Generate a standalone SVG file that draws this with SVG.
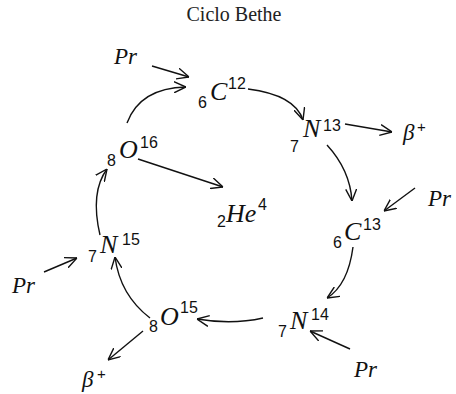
<svg xmlns="http://www.w3.org/2000/svg" width="456" height="394" viewBox="0 0 456 394">
<style>
.t{font-family:"Liberation Serif",serif;font-size:20px;fill:#222}
.m{font-family:"Liberation Serif",serif;font-style:italic;font-size:26px;fill:#111}
.p{font-family:"Liberation Serif",serif;font-style:italic;font-size:23px;fill:#111}
.s{font-family:"Liberation Sans","Open Sans",sans-serif;font-size:16px;fill:#111}
.c path{fill:none;stroke:#111;stroke-width:1.4;marker-end:url(#ah)}
</style>
<defs>
<marker id="ah" viewBox="0 0 12 12" markerWidth="12" markerHeight="12" refX="12" refY="6" orient="auto" markerUnits="userSpaceOnUse">
<path d="M0,0.5 L12,6 L0,11.5" fill="none" stroke="#111" stroke-width="1.4"/>
</marker>
</defs>
<rect width="456" height="394" fill="#fff"/>
<text class="t" x="234" y="21" text-anchor="middle">Ciclo Bethe</text>
<g class="c" id="connectors">
<path d="M152,66 L189,77"/>
<path d="M127,123 Q140,88 186,87"/>
<path d="M248,89 Q295,95 303,120"/>
<path d="M345,124 L392,132"/>
<path d="M327,145 Q350,170 352,201"/>
<path d="M415,188 L384,211"/>
<path d="M353,247 Q348,285 327,298"/>
<path d="M350,349 L310,331"/>
<path d="M263,318 Q232,325 197,319"/>
<path d="M143,331 L108,360"/>
<path d="M150,318 Q120,295 115,257"/>
<path d="M44,272 L77,258"/>
<path d="M100,235 Q90,192 107,169"/>
<path d="M138,159 L223,187"/>
</g>
<g id="pr1"><text class="p" x="114" y="64">Pr</text></g>
<g id="c12"><text class="s" x="198" y="108">6</text><text class="m" x="210" y="100">C</text><text class="s" x="228" y="89">12</text></g>
<g id="n13"><text class="s" x="290" y="152">7</text><text class="m" x="303" y="137">N</text><text class="s" x="323" y="131">13</text></g>
<g id="beta1"><text class="p" x="403" y="140">β</text><text class="s" x="417" y="132" style="font-size:15px">+</text></g>
<g id="pr2"><text class="p" x="428" y="206">Pr</text></g>
<g id="c13"><text class="s" x="333" y="248">6</text><text class="m" x="344" y="240">C</text><text class="s" x="363" y="230">13</text></g>
<g id="he4"><text class="s" x="217" y="227">2</text><text class="m" x="226" y="222">He</text><text class="s" x="258" y="210">4</text></g>
<g id="pr3"><text class="p" x="354" y="377">Pr</text></g>
<g id="n14"><text class="s" x="278" y="337">7</text><text class="m" x="290" y="329">N</text><text class="s" x="311" y="320">14</text></g>
<g id="o15"><text class="s" x="149" y="332">8</text><text class="m" x="160" y="325">O</text><text class="s" x="180" y="313">15</text></g>
<g id="beta2"><text class="p" x="82" y="387">β</text><text class="s" x="97" y="379" style="font-size:15px">+</text></g>
<g id="n15"><text class="s" x="88" y="262">7</text><text class="m" x="100" y="253">N</text><text class="s" x="122" y="245">15</text></g>
<g id="pr4"><text class="p" x="12" y="293">Pr</text></g>
<g id="o16"><text class="s" x="107" y="166">8</text><text class="m" x="119" y="158">O</text><text class="s" x="140" y="148">16</text></g>
</svg>
